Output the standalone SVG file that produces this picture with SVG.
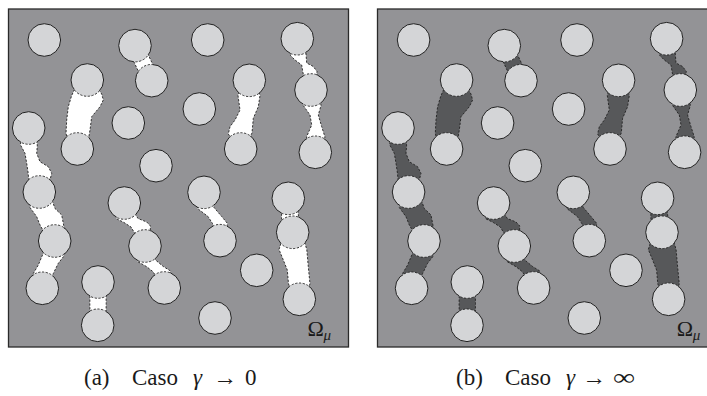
<svg xmlns="http://www.w3.org/2000/svg" xmlns:xlink="http://www.w3.org/1999/xlink" width="707" height="396" viewBox="0 0 707 396">
<style>
.panel{fill:#939396;stroke:#2a2a2a;stroke-width:1.3}
.solid{fill:none;stroke:#222;stroke-width:1}
.dash{fill:none;stroke:#222;stroke-width:0.9;stroke-dasharray:2.2 1.6}
.lbl{font-family:"Liberation Serif","DejaVu Serif",serif;fill:#1a1a1a}
.cap{font-family:"Liberation Serif","DejaVu Serif",serif;font-size:23px;fill:#1a1a1a}
</style>
<defs>
<g id="circs">
<circle cx="44.3" cy="40" r="16.3"/>
<circle cx="135" cy="45.6" r="16.3"/>
<circle cx="151.7" cy="80.7" r="16.3"/>
<circle cx="87.3" cy="80" r="16.3"/>
<circle cx="77.3" cy="149" r="16.3"/>
<circle cx="28.7" cy="128" r="16.3"/>
<circle cx="128.3" cy="123" r="16.3"/>
<circle cx="156" cy="165.7" r="16.3"/>
<circle cx="207.7" cy="40" r="16.3"/>
<circle cx="297.3" cy="38.7" r="16.3"/>
<circle cx="249.3" cy="80.3" r="16.3"/>
<circle cx="311" cy="90" r="16.3"/>
<circle cx="199.3" cy="109" r="16.3"/>
<circle cx="240.7" cy="149" r="16.3"/>
<circle cx="315.3" cy="152.3" r="16.3"/>
<circle cx="39.3" cy="192" r="16.3"/>
<circle cx="54.7" cy="241" r="16.3"/>
<circle cx="42.3" cy="288.3" r="16.3"/>
<circle cx="124.3" cy="203" r="16.3"/>
<circle cx="145" cy="246" r="16.3"/>
<circle cx="164.3" cy="288" r="16.3"/>
<circle cx="98" cy="282" r="16.3"/>
<circle cx="97.7" cy="325.3" r="16.3"/>
<circle cx="204" cy="192.3" r="16.3"/>
<circle cx="220" cy="240.7" r="16.3"/>
<circle cx="288.3" cy="198.3" r="16.3"/>
<circle cx="292.7" cy="232.3" r="16.3"/>
<circle cx="299.3" cy="299.3" r="16.3"/>
<circle cx="256.7" cy="270.3" r="16.3"/>
<circle cx="215" cy="318" r="16.3"/>
</g>
<g id="regs" stroke-linejoin="round">
<polygon points="133.6,61.2 148,54.3 153.1,65.1 138.7,72"/>
<polygon points="76,86 71.5,96 68.3,106.7 66.7,120 66,133.3 68,142 88,142 90,130 91.7,116.7 100,106.7 103.3,100 101.7,94 97,87"/>
<polygon points="21,138 20.5,145 25,153.3 26.7,163.3 28,172 29,182 46,182 50.5,178 51.7,173.3 48.3,166.7 40,161.7 36.7,153.3 37.3,146 37,138"/>
<polygon points="32,200 30,207.5 36.7,216.7 40,225 44,232 62,232 64,227 63.3,223.3 61.7,215 55,208.5 52,200"/>
<polygon points="46,248 42.5,255 38.3,265 33.3,273.5 35,280 51,280 53.3,273.5 58.3,263.3 64,256 62,248"/>
<polygon points="90,292 89.8,303.5 90,315 106,315 106.2,303.5 106,292"/>
<polygon points="118,212 116,218.5 124,222.5 131,227 134,232 138,237 150,235 150.5,226 146.7,222 138,218.5 134,212"/>
<polygon points="140,255 137.5,261.5 146.7,266.7 153,271.7 157,278 170,278 170.5,271 163.3,266.5 155.5,260 155,254"/>
<polygon points="198,202 197.5,208.5 208,216.5 212.5,223.5 215,230 226,230 227.5,223.5 221.7,216.5 214,207.5 213,202"/>
<polygon points="282,206 281.5,216.5 282,226 298,226 298.5,216.5 297.5,206"/>
<polygon points="282,240 279,249.5 283.3,260 287.3,270 288.5,284 292,292 306,292 310,284 308.3,266.7 306.8,249.5 304,240"/>
<polygon points="291,47 290.5,55.5 295,60 301.7,65 303,73 305,80 316,80 317,71.5 313.3,66.5 306.7,63 306,54 305,46"/>
<polygon points="304,98 303.3,105.5 310,115 311.7,125 306.5,137 308,143 323,143 325,137 321.7,126.7 318.3,115 321,105.5 320,98"/>
<polygon points="240,88 238,95.5 240,110 235,120 230,126.7 228.3,134 233,141 248,141 252,133 253.3,118.3 258.3,106.7 260,95.5 258,88"/>
</g>
<mask id="mOut" maskUnits="userSpaceOnUse" x="-20" y="-20" width="400" height="400">
<rect x="-20" y="-20" width="400" height="400" fill="#fff"/>
<use href="#regs" fill="#000"/>
</mask>
<mask id="mIn" maskUnits="userSpaceOnUse" x="-20" y="-20" width="400" height="400">
<use href="#regs" fill="#fff"/>
</mask>
<mask id="mNoC" maskUnits="userSpaceOnUse" x="-20" y="-20" width="400" height="400">
<rect x="-20" y="-20" width="400" height="400" fill="#fff"/>
<use href="#circs" fill="#000"/>
</mask>
</defs>

<g id="panel-a">
<rect class="panel" x="8.5" y="9" width="340" height="338"/>
<use href="#regs" fill="#ffffff"/>
<use href="#circs" fill="#d4d5d7"/>
<use href="#circs" class="solid" mask="url(#mOut)"/>
<use href="#circs" class="dash" mask="url(#mIn)"/>
<use href="#regs" class="dash" mask="url(#mNoC)"/>
<text class="lbl" x="307.5" y="336" font-size="22">Ω<tspan x="323.5" y="340" font-size="15" font-style="italic">μ</tspan></text>
</g>

<g id="panel-b">
<rect class="panel" x="377.5" y="9" width="340" height="338"/>
<g transform="translate(369.3,0)">
<use href="#regs" fill="#57585a"/>
<use href="#circs" fill="#d4d5d7"/>
<use href="#circs" class="solid" mask="url(#mOut)"/>
<use href="#circs" class="dash" mask="url(#mIn)"/>
<use href="#regs" class="dash" mask="url(#mNoC)"/>
<text class="lbl" x="307.5" y="336" font-size="22">Ω<tspan x="323.5" y="340" font-size="15" font-style="italic">μ</tspan></text>
</g>
</g>

<g id="captions">
<text class="cap" y="385"><tspan x="84">(a)</tspan><tspan x="132">Caso</tspan><tspan x="193" font-style="italic">γ</tspan><tspan x="245">0</tspan></text>
<text class="cap" x="213" y="385" textLength="24" lengthAdjust="spacingAndGlyphs">→</text>
<text class="cap" y="385"><tspan x="456">(b)</tspan><tspan x="505">Caso</tspan><tspan x="566" font-style="italic">γ</tspan></text>
<text class="cap" x="582" y="385" textLength="24" lengthAdjust="spacingAndGlyphs">→</text>
<text class="cap" x="613" y="385" textLength="22" lengthAdjust="spacingAndGlyphs">∞</text>
</g>
</svg>
